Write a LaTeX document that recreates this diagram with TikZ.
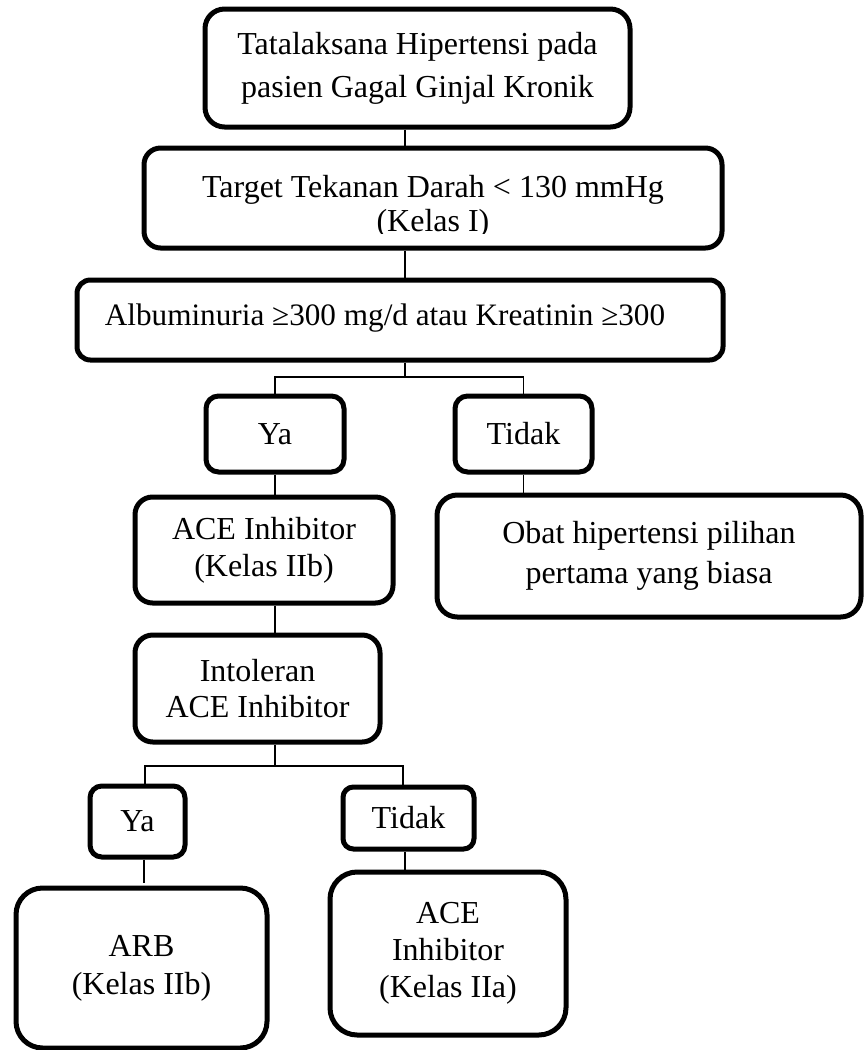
\documentclass[tikz,border=0pt]{standalone}
\usepackage{fontspec}
\setmainfont{Liberation Serif}
\newcommand{\fsz}[1]{\fontsize{16}{#1}\selectfont}
\begin{document}
\begin{tikzpicture}[x=0.5pt,y=-0.5pt,
  box/.style={draw, line width=2.5pt, rounded corners=#1, inner sep=0pt, align=center},
  conn/.style={line width=0.65pt},
  txt/.style={inner sep=0pt, align=center}]
\useasboundingbox (0,0) rectangle (863,1050);
\coordinate (axis) at (405,0);
\coordinate (br1) at (0,377);
\coordinate (br2L) at (145,766);
\coordinate (br2R) at (403,766);
\coordinate (arbend) at (144,883);

\node[box=9.8pt, minimum width=212.5pt, minimum height=59pt, font=\fsz{21.5}] (b1) at (417.5,68) {Tatalaksana Hipertensi pada\\pasien Gagal Ginjal Kronik};
\node[box=8.3pt, minimum width=289pt, minimum height=50pt] (tgt) at (433,198) {};
\begin{scope}
\clip (144,148) rectangle (722,233);
\node[txt, font=\fsz{20}, anchor=north] (tgtt) at (433,175) {Target Tekanan Darah \textless{} 130 mmHg\\[-3pt](Kelas I)};
\end{scope}
\node[box=6.7pt, minimum width=323pt, minimum height=40pt] (alb) at (400,320) {};
\node[txt, font=\fontsize{15.6}{20}\selectfont, anchor=base] (albt) at (385,325) {Albuminuria ≥300 mg/d atau Kreatinin ≥300};

\node[box=6.3pt, minimum width=69pt, minimum height=38pt, font=\fsz{20}] (ya) at (275,434) {Ya};
\node[box=6.3pt, minimum width=68.5pt, minimum height=38pt, font=\fsz{20}] (tidak) at (523.5,434) {Tidak};
\node[box=8.8pt, minimum width=129pt, minimum height=53pt, font=\fsz{18.5}] (ace) at (264,550) {ACE Inhibitor\\(Kelas IIb)};
\node[box=10.2pt, minimum width=212pt, minimum height=61pt, font=\fsz{20}] (obat) at (649,556) {Obat hipertensi pilihan\\pertama yang biasa};
\node[box=8.9pt, minimum width=122.5pt, minimum height=53.5pt, font=\fsz{18}] (intol) at (257.5,688.5) {Intoleran\\ACE Inhibitor};
\node[box=5.9pt, minimum width=47.5pt, minimum height=35.5pt, font=\fsz{20}] (ya2) at (137.5,821.5) {Ya};
\node[box=5.2pt, minimum width=65.5pt, minimum height=31pt, font=\fsz{20}] (tidak2) at (408.5,818) {Tidak};
\node[box=13.3pt, minimum width=125.5pt, minimum height=80pt, font=\fsz{19}] (arb) at (141.5,968) {ARB\\(Kelas IIb)};
\node[box=13.6pt, minimum width=118pt, minimum height=81.5pt, font=\fsz{18.5}] (aceb) at (448,953.5) {ACE\\Inhibitor\\(Kelas IIa)};

\draw[conn] (b1.south -| axis) -- (tgt.north -| axis);
\draw[conn] (tgt.south -| axis) -- (alb.north -| axis);
\draw[conn] (alb.south -| axis) -- (axis |- br1);
\draw[conn] (ya.north) -- (ya.north |- br1) -- (tidak.north |- br1) -- (tidak.north);
\draw[conn] (ya.south) -- (ya.south |- ace.north);
\draw[conn] (tidak.south) -- (tidak.south |- obat.north);
\draw[conn] (ace.south -| ya) -- (intol.north -| ya);
\draw[conn] (intol.south -| ya) -- (ya |- br2L);
\draw[conn] (ya2.north -| br2L) -- (br2L) -- (br2R) -- (tidak2.north -| br2R);
\draw[conn] (ya2.south -| arbend) -- (arbend);
\draw[conn] (tidak2.south -| axis) -- (aceb.north -| axis);
\end{tikzpicture}
\end{document}
